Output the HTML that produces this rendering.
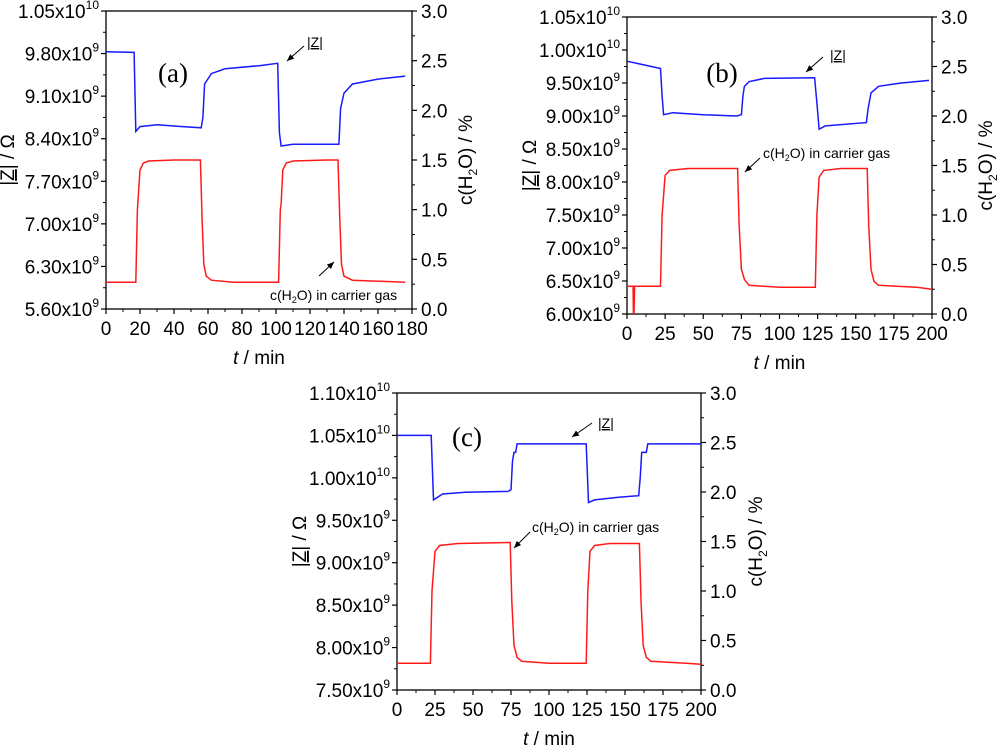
<!DOCTYPE html>
<html><head><meta charset="utf-8">
<style>
html,body{margin:0;padding:0;background:#fff;}
svg{display:block;font-family:"Liberation Sans",sans-serif;}
</style></head>
<body>
<svg id="chart" width="1000" height="746" viewBox="0 0 1000 746" xmlns="http://www.w3.org/2000/svg"></svg>
<script>
// Panel (a) data
const aTime = [0,16.5,17.5,20,30,45,56,57,58,62,70,90,101,102,103,110,130,137,138,140,145,160,176];
const aZ = [9.83e9,9.82e9,8.52e9,8.6e9,8.63e9,8.6e9,8.58e9,8.75e9,9.3e9,9.47e9,9.55e9,9.6e9,9.64e9,8.5e9,8.28e9,8.31e9,8.31e9,8.31e9,8.9e9,9.15e9,9.3e9,9.38e9,9.43e9];
const aCT = [0,17.5,18.5,20,22,25,40,55.5,56.5,57.5,59,62,75,101.5,102.5,103,104,106,110,130,136.5,137.5,138.5,140,145,160,176];
const aC = [0.27,0.27,1.0,1.4,1.47,1.49,1.5,1.5,0.9,0.45,0.33,0.29,0.27,0.27,1.0,1.05,1.4,1.47,1.49,1.5,1.5,0.9,0.45,0.33,0.29,0.28,0.27];
// Panel (b) data
const bTime = [0,22,23,24,30,50,72,75,76,77,80,90,123,124.5,126,130,157,158,160,165,180,198];
const bZ = [9.83e9,9.72e9,9.3e9,9.02e9,9.05e9,9.02e9,9.0e9,9.02e9,9.3e9,9.45e9,9.52e9,9.57e9,9.58e9,9.2e9,8.8e9,8.85e9,8.9e9,9.1e9,9.35e9,9.45e9,9.5e9,9.54e9];
const bCT = [0,4,4.2,4.6,5,22,23,25,28,40,72.5,73.5,75,77,80,100,123.5,124.5,126,129,140,157.5,158.5,160,162,165,190,200];
const bC = [0.28,0.28,0,0,0.28,0.28,1.0,1.4,1.45,1.47,1.47,0.9,0.45,0.35,0.29,0.27,0.27,1.0,1.38,1.45,1.47,1.47,0.9,0.45,0.33,0.29,0.27,0.25];
// Panel (c) data
const cTime = [0,22.5,24,30,45,73,75,76,77,78,79,124.5,126,130,145,159,160,161,164,165,200];
const cZ = [1.05e10,1.05e10,9.74e9,9.81e9,9.83e9,9.84e9,9.86e9,1.02e10,1.03e10,1.03e10,1.04e10,1.04e10,9.71e9,9.74e9,9.77e9,9.79e9,1.0e10,1.03e10,1.03e10,1.04e10,1.04e10];
const cCT = [0,22,23,25,28,40,74.5,75.5,77,79,82,100,124.5,125.5,127,130,140,159.5,160.5,162,164,167,190,200];
const cC = [0.27,0.27,1.0,1.4,1.46,1.48,1.49,0.9,0.45,0.33,0.29,0.27,0.27,1.0,1.4,1.46,1.48,1.48,0.9,0.45,0.33,0.29,0.27,0.26];
// Axis ticks
const aXTicks = [0,20,40,60,80,100,120,140,160,180];
const aYTicks = [5.6e9,6.3e9,7.0e9,7.7e9,8.4e9,9.1e9,9.8e9,1.05e10];
const aYLabels = ["5.60x10","6.30x10","7.00x10","7.70x10","8.40x10","9.10x10","9.80x10","1.05x10"];
const aYExp = ["9","9","9","9","9","9","9","10"];
const bXTicks = [0,25,50,75,100,125,150,175,200];
const bYTicks = [6.0e9,6.5e9,7.0e9,7.5e9,8.0e9,8.5e9,9.0e9,9.5e9,1.0e10,1.05e10];
const bYLabels = ["6.00x10","6.50x10","7.00x10","7.50x10","8.00x10","8.50x10","9.00x10","9.50x10","1.00x10","1.05x10"];
const bYExp = ["9","9","9","9","9","9","9","9","10","10"];
const cXTicks = [0,25,50,75,100,125,150,175,200];
const cYTicks = [7.5e9,8.0e9,8.5e9,9.0e9,9.5e9,1.0e10,1.05e10,1.10e10];
const cYLabels = ["7.50x10","8.00x10","8.50x10","9.00x10","9.50x10","1.00x10","1.05x10","1.10x10"];
const cYExp = ["9","9","9","9","9","10","10","10"];
const rTicks = [0,0.5,1.0,1.5,2.0,2.5,3.0];
const rLabels = ["0.0","0.5","1.0","1.5","2.0","2.5","3.0"];

const NS = "http://www.w3.org/2000/svg";
const svg = document.getElementById('chart');
function mk(tag, attrs, parent){
  const e = document.createElementNS(NS, tag);
  for (const k in attrs) e.setAttribute(k, attrs[k]);
  (parent||svg).appendChild(e);
  return e;
}

function panel(p){
  const g = mk('g', {});
  
  
  const X = t => p.x0 + (t - p.xmin) / (p.xmax - p.xmin) * (p.x1 - p.x0);
  const YL = v => p.y1 - (v - p.ymin) / (p.ymax - p.ymin) * (p.y1 - p.y0);
  const YR = v => p.y1 - v / 3 * (p.y1 - p.y0);
  const fr = mk('rect', {x:p.x0, y:p.y0, width:p.x1-p.x0, height:p.y1-p.y0, fill:'none', stroke:'#000', 'stroke-width':1.3}, g);
  
  
  const xt = p.xTicks;
  const xstep = xt[1]-xt[0];
  for (let i=0;i<xt.length;i++){
    mk('line', {x1:X(xt[i]), x2:X(xt[i]), y1:p.y1, y2:p.y1+5, stroke:'#000', 'stroke-width':1.2}, g);
    if (i<xt.length-1){ const m = xt[i]+xstep/2; mk('line', {x1:X(m), x2:X(m), y1:p.y1, y2:p.y1+3, stroke:'#000', 'stroke-width':1}, g); }
    const tl = mk('text', {x:X(xt[i]), y:p.y1+26, 'font-size':19, 'text-anchor':'middle'}, g);
    tl.textContent = xt[i];
    
    
  }
  const yt = p.yTicks;
  const ystep = yt[1]-yt[0];
  for (let i=0;i<yt.length;i++){
    mk('line', {x1:p.x0-5, x2:p.x0, y1:YL(yt[i]), y2:YL(yt[i]), stroke:'#000', 'stroke-width':1.2}, g);
    if (i<yt.length-1){ const m = yt[i]+ystep/2; mk('line', {x1:p.x0-3, x2:p.x0, y1:YL(m), y2:YL(m), stroke:'#000', 'stroke-width':1}, g); }
    const tl = mk('text', {x:p.x0-7, y:YL(yt[i])+7, 'font-size':19, 'text-anchor':'end'}, g);
    const s1 = mk('tspan', {}, tl); s1.textContent = p.yLabels[i];
    const s2 = mk('tspan', {dy:-9, 'font-size':12}, tl); s2.textContent = p.yExp[i];
    
    
  }
  for (let i=0;i<rTicks.length;i++){
    mk('line', {x1:p.x1, x2:p.x1+5, y1:YR(rTicks[i]), y2:YR(rTicks[i]), stroke:'#000', 'stroke-width':1.2}, g);
    if (i<rTicks.length-1){ const m = rTicks[i]+0.25; mk('line', {x1:p.x1, x2:p.x1+3, y1:YR(m), y2:YR(m), stroke:'#000', 'stroke-width':1}, g); }
    const tl = mk('text', {x:p.x1+9, y:YR(rTicks[i])+7, 'font-size':19}, g);
    tl.textContent = rLabels[i];
    
    
  }
  const cp = mk('clipPath', {id:'clip'+p.id}, g);
  mk('rect', {x:p.x0, y:p.y0, width:p.x1-p.x0, height:p.y1-p.y0}, cp);
  let d = '';
  for (let i=0;i<p.zt.length;i++) d += (i?'L':'M') + X(p.zt[i]).toFixed(1) + ',' + YL(p.zv[i]).toFixed(1);
  const bl = mk('path', {d:d, fill:'none', stroke:'#1a1aff', 'stroke-width':1.5, 'clip-path':'url(#clip'+p.id+')'}, g);
  
  
  d = '';
  for (let i=0;i<p.ct.length;i++) d += (i?'L':'M') + X(p.ct[i]).toFixed(1) + ',' + YR(p.cv[i]).toFixed(1);
  const rl = mk('path', {d:d, fill:'none', stroke:'#ff1a1a', 'stroke-width':1.5, 'clip-path':'url(#clip'+p.id+')'}, g);
  
  
  const xt2 = mk('text', {x:(p.x0+p.x1)/2, y:p.y1+55, 'font-size':19, 'text-anchor':'middle'}, g);
  xt2.innerHTML = '<tspan font-style="italic">t</tspan> / min';
  
  
  const ly = (p.y0+p.y1)/2;
  const lt = mk('text', {x:0, y:0, 'font-size':19, 'text-anchor':'middle', transform:'translate('+p.lx+','+ly+') rotate(-90)'}, g);
  lt.innerHTML = '|<tspan text-decoration="underline">Z</tspan>| / Ω';
  
  
  const rt = mk('text', {x:0, y:0, 'font-size':19, 'text-anchor':'middle', transform:'translate('+p.rx+','+ly+') rotate(-90)'}, g);
  rt.innerHTML = 'c(H<tspan font-size="12" dy="5">2</tspan><tspan dy="-5">O) / %</tspan>';
  
  
  const pl = mk('text', {x:p.lab[0], y:p.lab[1], 'font-size':27, 'font-family':'Liberation Serif, serif', 'text-anchor':'middle'}, g);
  pl.textContent = '(' + p.id + ')';
  
  
  const zl = mk('text', {x:p.zlab[0], y:p.zlab[1], 'font-size':14}, g);
  zl.innerHTML = '|<tspan text-decoration="underline">Z</tspan>|';
  
  
  arrow(g, p.zarr);
  const cl = mk('text', {x:p.clab[0], y:p.clab[1], 'font-size':14}, g);
  cl.innerHTML = 'c(H<tspan font-size="9" dy="3">2</tspan><tspan dy="-3">O) in carrier gas</tspan>';
  
  
  arrow(g, p.carr);
}
function arrow(g, a){
  const [x1,y1,x2,y2] = a;
  mk('line', {x1:x1,y1:y1,x2:x2,y2:y2,stroke:'#000','stroke-width':1}, g);
  const ang = Math.atan2(y2-y1, x2-x1), L=7, W=3;
  const bx = x2 - L*Math.cos(ang), by = y2 - L*Math.sin(ang);
  const px = -Math.sin(ang)*W, py = Math.cos(ang)*W;
  const ah = mk('polygon', {points:`${x2},${y2} ${bx+px},${by+py} ${bx-px},${by-py}`, fill:'#000'}, g);
  
  
}

panel({id:'a', x0:106, x1:412, y0:11, y1:309, xmin:0, xmax:180, ymin:5.6e9, ymax:1.05e10,
  xTicks:aXTicks, yTicks:aYTicks, yLabels:aYLabels, yExp:aYExp,
  zt:aTime, zv:aZ, ct:aCT, cv:aC, lx:14, rx:472, lab:[173,82],
  zlab:[307,47], zarr:[304,46,287,61], clab:[270,300], carr:[319,276,334,262]});
panel({id:'b', x0:627, x1:932, y0:17, y1:314, xmin:0, xmax:200, ymin:6.0e9, ymax:1.05e10,
  xTicks:bXTicks, yTicks:bYTicks, yLabels:bYLabels, yExp:bYExp,
  zt:bTime, zv:bZ, ct:bCT, cv:bC, lx:536, rx:992, lab:[722,82],
  zlab:[830,60], zarr:[823,57,806,72], clab:[763,158], carr:[760,158,745,172]});
panel({id:'c', x0:397, x1:701, y0:393, y1:690, xmin:0, xmax:200, ymin:7.5e9, ymax:1.10e10,
  xTicks:cXTicks, yTicks:cYTicks, yLabels:cYLabels, yExp:cYExp,
  zt:cTime, zv:cZ, ct:cCT, cv:cC, lx:306, rx:762, lab:[467,446],
  zlab:[598,428], zarr:[592,423,572,437], clab:[532,532], carr:[530,532,514,548]});
</script>
</body></html>
